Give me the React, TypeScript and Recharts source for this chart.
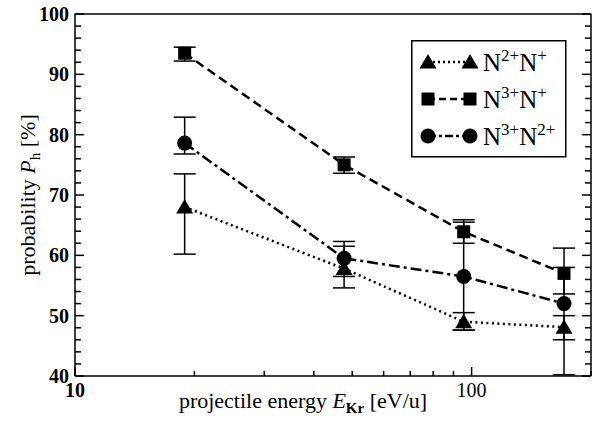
import { LineChart, Line, XAxis, YAxis, ErrorBar, Legend } from "recharts";

const FONT = '"Liberation Serif", "Times New Roman", serif';

// projectile energy E_Kr [eV/u]
const energies = [18.9, 47.7, 95.5, 171];

// N2+ N+
const n2n1 = [68.0, 57.8, 49.0, 48.1];
const n2n1Low = [60.2, 54.6, 47.6, 40.2];
const n2n1High = [73.5, 61.5, 50.5, 50.0];

// N3+ N+
const n3n1 = [93.5, 75.0, 63.9, 57.0];
const n3n1Low = [92.2, 73.6, 62.0, 53.6];
const n3n1High = [94.5, 76.3, 65.9, 61.2];

// N3+ N2+
const n3n2 = [78.6, 59.5, 56.5, 52.0];
const n3n2Low = [76.8, 56.5, 47.6, 46.0];
const n3n2High = [82.9, 62.3, 65.5, 58.0];

const xTicks = [10, 20, 30, 40, 50, 60, 70, 80, 90, 100, 200];
const xLabels = [10, 100];
const yTicks = [
  40, 42, 44, 46, 48, 50, 52, 54, 56, 58, 60, 62, 64, 66, 68, 70, 72, 74, 76, 78,
  80, 82, 84, 86, 88, 90, 92, 94, 96, 98, 100,
];
const yLabels = [40, 50, 60, 70, 80, 90, 100];

const data = energies.map((e, i) => ({
  e,
  tri: n2n1[i],
  triErr: [n2n1[i] - n2n1Low[i], n2n1High[i] - n2n1[i]],
  sq: n3n1[i],
  sqErr: [n3n1[i] - n3n1Low[i], n3n1High[i] - n3n1[i]],
  circ: n3n2[i],
  circErr: [n3n2[i] - n3n2Low[i], n3n2High[i] - n3n2[i]],
}));

function triPath(cx: number, cy: number) {
  return `M${cx},${cy - 8} L${cx + 8.5},${cy + 6.5} L${cx - 8.5},${cy + 6.5} Z`;
}

const TriDot = (p: any) => <path key={`t${p.index}`} d={triPath(p.cx, p.cy)} fill="#000" />;
const SqDot = (p: any) => (
  <rect key={`s${p.index}`} x={p.cx - 6.5} y={p.cy - 6.5} width={13} height={13} fill="#000" />
);
const CircDot = (p: any) => <circle key={`c${p.index}`} cx={p.cx} cy={p.cy} r={7.5} fill="#000" />;

function BottomTick({ x, y, payload }: any) {
  const major = xLabels.includes(payload.value);
  return (
    <g>
      <line x1={x} x2={x} y1={y} y2={y - (major ? 9 : 5)} stroke="#000" strokeWidth={1.5} />
      {major && (
        <text
          x={x}
          y={y + 21}
          textAnchor="middle"
          fontSize={20}
          fontWeight={payload.value === 10 ? "bold" : "normal"}
          fontFamily={FONT}
          fill="#000"
        >
          {payload.value}
        </text>
      )}
    </g>
  );
}

function TopTick({ x, y, payload }: any) {
  const major = xLabels.includes(payload.value);
  return <line x1={x} x2={x} y1={y} y2={y + (major ? 9 : 5)} stroke="#000" strokeWidth={1.5} />;
}

function LeftTick({ x, y, payload }: any) {
  const major = yLabels.includes(payload.value);
  return (
    <g>
      <line x1={x} x2={x + (major ? 9 : 6)} y1={y} y2={y} stroke="#000" strokeWidth={1.5} />
      {major && (
        <text x={x - 6} y={y + 7} textAnchor="end" fontSize={20} fontWeight="bold" fontFamily={FONT} fill="#000">
          {payload.value}
        </text>
      )}
    </g>
  );
}

function RightTick({ x, y, payload }: any) {
  const major = yLabels.includes(payload.value);
  return <line x1={x} x2={x - (major ? 9 : 6)} y1={y} y2={y} stroke="#000" strokeWidth={1.5} />;
}

function XTitle({ viewBox }: any) {
  const cx = viewBox.x + viewBox.width / 2 - 30;
  return (
    <text x={cx} y={viewBox.y + 32} textAnchor="middle" fontSize={22} fontFamily={FONT} fill="#000">
      projectile energy <tspan fontStyle="italic">E</tspan>
      <tspan dy={5} fontSize={15} fontWeight="bold">Kr</tspan>
      <tspan dy={-5}> [eV/u]</tspan>
    </text>
  );
}

function YTitle({ viewBox }: any) {
  const cy = viewBox.y + viewBox.height / 2;
  const x = 35;
  return (
    <text
      x={x}
      y={cy}
      transform={`rotate(-90 ${x} ${cy})`}
      textAnchor="middle"
      fontSize={22}
      fontFamily={FONT}
      fill="#000"
    >
      probability <tspan fontStyle="italic">P</tspan>
      <tspan dy={5} fontSize={15}>h</tspan>
      <tspan dy={-5}> [%]</tspan>
    </text>
  );
}

const legendRows = [
  { sup1: "2+", sup2: "+", dash: "2 3", shape: "tri" },
  { sup1: "3+", sup2: "+", dash: "7 4", shape: "sq" },
  { sup1: "3+", sup2: "2+", dash: "8 3 3 3", shape: "circ" },
];

function marker(shape: string, cx: number, cy: number) {
  if (shape === "tri") return <path d={triPath(cx, cy)} fill="#000" />;
  if (shape === "sq") return <rect x={cx - 6.5} y={cy - 6.5} width={13} height={13} fill="#000" />;
  return <circle cx={cx} cy={cy} r={7.5} fill="#000" />;
}

function LegendBox() {
  return (
    <svg width={156} height={118} style={{ display: "block" }}>
      <rect x={0.75} y={0.75} width={154} height={116} fill="#fff" stroke="#000" strokeWidth={1.5} />
      {legendRows.map((r, i) => {
        const cy = 22 + i * 37;
        return (
          <g key={i}>
            <line x1={17} x2={59} y1={cy} y2={cy} stroke="#000" strokeWidth={2.5} strokeDasharray={r.dash} />
            {marker(r.shape, 17, cy)}
            {marker(r.shape, 59, cy)}
            <text x={72} y={cy + 9} fontSize={25} fontFamily={FONT} fill="#000">
              N<tspan dy={-10} fontSize={17}>{r.sup1}</tspan>
              <tspan dy={10}>N</tspan>
              <tspan dy={-10} fontSize={17}>{r.sup2}</tspan>
            </text>
          </g>
        );
      })}
    </svg>
  );
}

export default function App() {
  return (
    <div style={{ position: "absolute", left: 0, top: 0, width: 593, height: 422, background: "#fff", fontFamily: FONT }}>
      <LineChart width={593} height={422} data={data} margin={{ top: 0, right: 0, bottom: 0, left: 0 }}>
        <XAxis
          dataKey="e"
          type="number"
          scale="log"
          domain={[10, 200]}
          allowDataOverflow
          ticks={xTicks}
          interval={0}
          height={46}
          tickSize={0}
          tickMargin={0}
          tickLine={false}
          tick={BottomTick}
          axisLine={{ stroke: "#000", strokeWidth: 1.5 }}
          label={XTitle}
        />
        <XAxis
          xAxisId="top"
          orientation="top"
          type="number"
          scale="log"
          domain={[10, 200]}
          allowDataOverflow
          ticks={xTicks}
          interval={0}
          height={14}
          tickSize={0}
          tickMargin={0}
          tickLine={false}
          tick={TopTick}
          axisLine={{ stroke: "#000", strokeWidth: 1.5 }}
        />
        <YAxis
          type="number"
          domain={[40, 100]}
          allowDataOverflow
          ticks={yTicks}
          interval={0}
          width={75}
          tickSize={0}
          tickMargin={0}
          tickLine={false}
          tick={LeftTick}
          axisLine={{ stroke: "#000", strokeWidth: 1.5 }}
          label={YTitle}
        />
        <YAxis
          yAxisId="right"
          orientation="right"
          type="number"
          domain={[40, 100]}
          allowDataOverflow
          ticks={yTicks}
          interval={0}
          width={2}
          tickSize={0}
          tickMargin={0}
          tickLine={false}
          tick={RightTick}
          axisLine={{ stroke: "#000", strokeWidth: 1.5 }}
        />
        <Legend
          layout="vertical"
          align="center"
          verticalAlign="middle"
          content={LegendBox}
          wrapperStyle={{ position: "absolute", left: 411, top: 40, width: 156, height: 118 }}
        />
        <Line
          dataKey="tri"
          type="linear"
          stroke="#000"
          strokeWidth={2.5}
          strokeDasharray="2 3.5"
          dot={TriDot}
          activeDot={false}
          isAnimationActive={false}
        >
          <ErrorBar dataKey="triErr" direction="y" width={11} stroke="#000" strokeWidth={1.5} />
        </Line>
        <Line
          dataKey="sq"
          type="linear"
          stroke="#000"
          strokeWidth={2.5}
          strokeDasharray="9 5"
          dot={SqDot}
          activeDot={false}
          isAnimationActive={false}
        >
          <ErrorBar dataKey="sqErr" direction="y" width={11} stroke="#000" strokeWidth={1.5} />
        </Line>
        <Line
          dataKey="circ"
          type="linear"
          stroke="#000"
          strokeWidth={2.5}
          strokeDasharray="11 4 3 4"
          dot={CircDot}
          activeDot={false}
          isAnimationActive={false}
        >
          <ErrorBar dataKey="circErr" direction="y" width={11} stroke="#000" strokeWidth={1.5} />
        </Line>
      </LineChart>
    </div>
  );
}
